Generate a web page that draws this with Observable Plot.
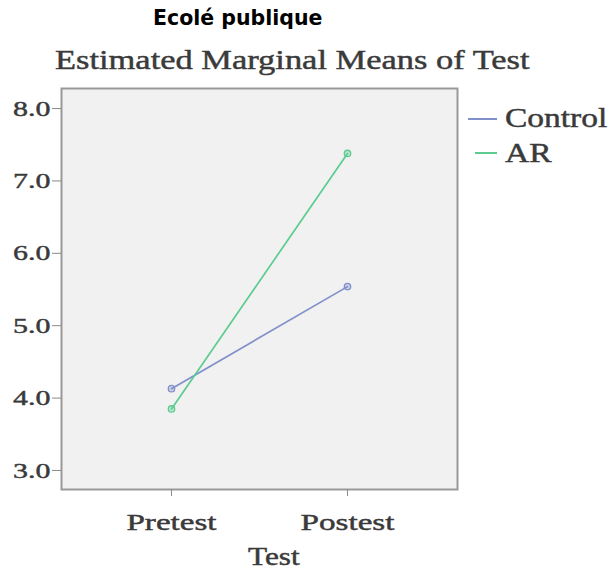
<!DOCTYPE html>
<html>
<head>
<meta charset="utf-8">
<script src="https://cdn.jsdelivr.net/npm/d3@7"></script>
<script src="https://cdn.jsdelivr.net/npm/@observablehq/plot@0.6"></script>
<style>
  html, body { margin: 0; padding: 0; background: #fff; }
  #page { position: relative; width: 615px; height: 569px; overflow: hidden; background: #fff; }
  .abs { position: absolute; white-space: nowrap; line-height: 1; }
  #heading { font-family: "DejaVu Sans", sans-serif; font-weight: bold; font-size: 20.5px; color: #000; left: 153px; top: 7.8px; }
  .serif { font-family: "Liberation Serif", "Times New Roman", serif; color: #3a3a3a; transform-origin: 0 0; -webkit-text-stroke: 0.45px #3a3a3a; }
  #title { font-size: 28px; left: 55px; top: 45.5px; transform: scaleX(1.23); }
  #xlabel { font-size: 25px; left: 248px; top: 544px; transform: scaleX(1.25); }
  .legtext { font-size: 27px; left: 505px; transform: scaleX(1.24); }
  .legline { position: absolute; height: 2px; }
  #chart { position: absolute; left: 0; top: 80px; }
</style>
</head>
<body>
<div id="page">
  <div id="heading" class="abs">Ecolé publique</div>
  <div id="title" class="abs serif">Estimated Marginal Means of Test</div>
  <div id="chart"></div>
  <div id="xlabel" class="abs serif">Test</div>
  <div id="legend"></div>
</div>
<script>
// ---- data ----
const tests = ["Pretest", "Postest"];
const groups = ["Control", "AR"];
const controlMeans = [4.13, 5.54];
const arMeans = [3.85, 7.38];
const yTicks = [3, 4, 5, 6, 7, 8];
const groupColors = ["#8190cb", "#5ccb8f"];

const seriesByGroup = [controlMeans, arMeans];
const data = groups.flatMap((g, i) =>
  tests.map((t, j) => ({ group: g, test: t, value: seriesByGroup[i][j] }))
);

const chart = Plot.plot({
  width: 615,
  height: 489,
  marginTop: 8,
  marginBottom: 80,
  marginLeft: 61,
  marginRight: 158,
  style: { fontFamily: "Liberation Serif, serif", background: "transparent", color: "#3a3a3a" },
  x: { type: "point", domain: tests, padding: 0.619, label: null },
  y: { domain: [2.737, 8.277], label: null },
  color: { domain: groups, range: groupColors },
  marks: [
    Plot.frame({ fill: "#f1f1f1", stroke: "#999", strokeWidth: 2 }),
    Plot.axisY({ ticks: yTicks, tickFormat: d3.format(".1f"), tickSize: 9, tickPadding: 2, fontSize: 22, label: null, stroke: "#8a8a8a", fill: "#3a3a3a" }),
    Plot.axisX({ tickSize: 7, tickPadding: 16, fontSize: 24, label: null, stroke: "#8a8a8a", fill: "#3a3a3a" }),
    Plot.line(data, { x: "test", y: "value", z: "group", stroke: "group", strokeWidth: 1.7 }),
    Plot.dot(data, { x: "test", y: "value", stroke: "group", fill: "group", fillOpacity: 0.35, r: 3.2, strokeWidth: 1.3 })
  ]
});
document.getElementById("chart").appendChild(chart);

// widen the serif tick labels horizontally (reference text is stretched)
function stretch(sel, sx) {
  chart.querySelectorAll(sel).forEach(t => {
    let tr = t.getAttribute("transform") || "";
    if (t.hasAttribute("x")) {
      const x = parseFloat(t.getAttribute("x")) || 0;
      t.removeAttribute("x");
      tr = tr + ` translate(${x},0)`;
    }
    t.setAttribute("transform", tr + ` scale(${sx},1)`);
    t.setAttribute("stroke", "#3a3a3a");
    t.setAttribute("stroke-width", "0.45");
  });
}
stretch('g[aria-label="y-axis tick label"] text', 1.36);
stretch('g[aria-label="x-axis tick label"] text', 1.38);

// legend
const legendRows = [
  { label: groups[0], color: groupColors[0], lineLeft: 468, lineWidth: 29, lineTop: 118, textTop: 104.5 },
  { label: groups[1], color: groupColors[1], lineLeft: 475, lineWidth: 22, lineTop: 152, textTop: 139.5 }
];
const legend = document.getElementById("legend");
legendRows.forEach(r => {
  const ln = document.createElement("div");
  ln.className = "legline";
  ln.style.left = r.lineLeft + "px";
  ln.style.top = r.lineTop + "px";
  ln.style.width = r.lineWidth + "px";
  ln.style.background = r.color;
  legend.appendChild(ln);
  const tx = document.createElement("div");
  tx.className = "abs serif legtext";
  tx.style.top = r.textTop + "px";
  tx.textContent = r.label;
  legend.appendChild(tx);
});
</script>
</body>
</html>
